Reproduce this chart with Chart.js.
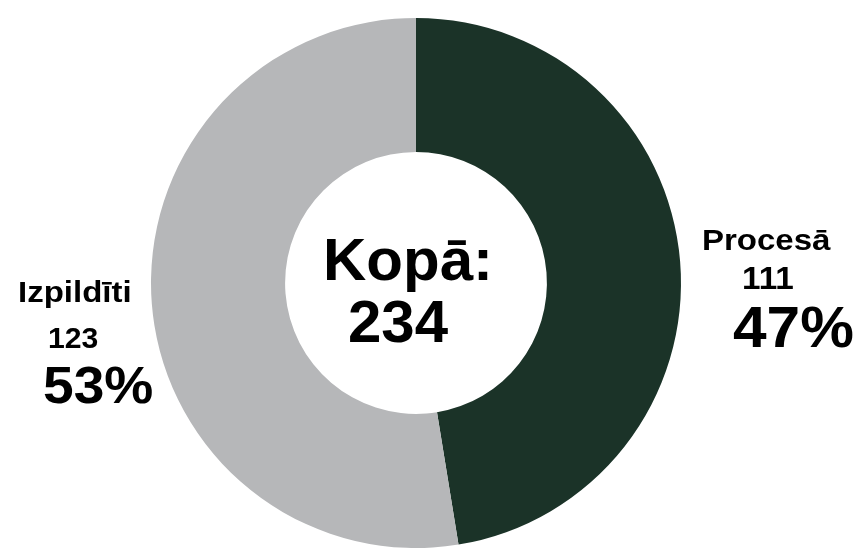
<!DOCTYPE html>
<html>
<head>
<meta charset="utf-8">
<script src="https://cdn.jsdelivr.net/npm/chart.js@4.4.0/dist/chart.umd.min.js"></script>
<style>
  html, body { margin: 0; padding: 0; background: #fff; overflow: hidden; }
  #wrap { position: absolute; left: 0; top: 0; width: 861px; height: 560px; }
</style>
</head>
<body>
<div id="wrap"><canvas id="myChart"></canvas></div>
<script>
const labels = ["Procesā", "Izpildīti"];
const values = [111, 123];
const colors = ["#1b3328", "#b6b7b9"];
const totalText = "Kopā:";

const total = values.reduce((a, b) => a + b, 0);
const FONT = "'Liberation Sans', Arial, Helvetica, sans-serif";

// text blocks, offsets from the doughnut centre: [dx, dy, size]
const sliceText = [
  { name: [286, -33, 30], count: [326, 6, 32], pct: [317, 64, 57] },
  { name: [-398, 19, 30], count: [-368, 65, 29], pct: [-373, 120, 52] }
];

function drawText(ctx, str, x, y, font, sx) {
  ctx.save();
  ctx.translate(x, y);
  ctx.scale(sx, 1);
  ctx.font = font;
  ctx.fillText(str, 0, 0);
  ctx.restore();
}

const textPlugin = {
  id: "doughnutText",
  afterDraw(chart) {
    const ctx = chart.ctx;
    const arc = chart.getDatasetMeta(0).data[0];
    const cx = arc.x, cy = arc.y;
    ctx.save();
    ctx.fillStyle = "#000";
    ctx.textAlign = "left";
    ctx.textBaseline = "alphabetic";
    values.forEach((v, i) => {
      const t = sliceText[i];
      const pct = Math.round(v / total * 100) + "%";
      drawText(ctx, labels[i], cx + t.name[0], cy + t.name[1], "bold " + t.name[2] + "px " + FONT, 1.1);
      drawText(ctx, String(v), cx + t.count[0], cy + t.count[1], "bold " + t.count[2] + "px " + FONT, 1.04);
      drawText(ctx, pct, cx + t.pct[0], cy + t.pct[1], "bold " + t.pct[2] + "px " + FONT, 1.06);
    });
    drawText(ctx, totalText, cx - 93, cy - 3, "bold 60px " + FONT, 1.0);
    drawText(ctx, String(total), cx - 68, cy + 59, "bold 60px " + FONT, 1.0);
    ctx.restore();
  }
};

new Chart(document.getElementById("myChart"), {
  type: "doughnut",
  data: {
    labels: labels,
    datasets: [{
      data: values,
      backgroundColor: colors,
      borderWidth: 0,
      hoverOffset: 0
    }]
  },
  options: {
    responsive: true,
    maintainAspectRatio: false,
    animation: false,
    cutout: "49.4%",
    layout: { padding: { top: 18, bottom: 12, left: 0, right: 29 } },
    plugins: {
      legend: { display: false },
      tooltip: { enabled: false }
    },
    events: []
  },
  plugins: [textPlugin]
});
</script>
</body>
</html>
